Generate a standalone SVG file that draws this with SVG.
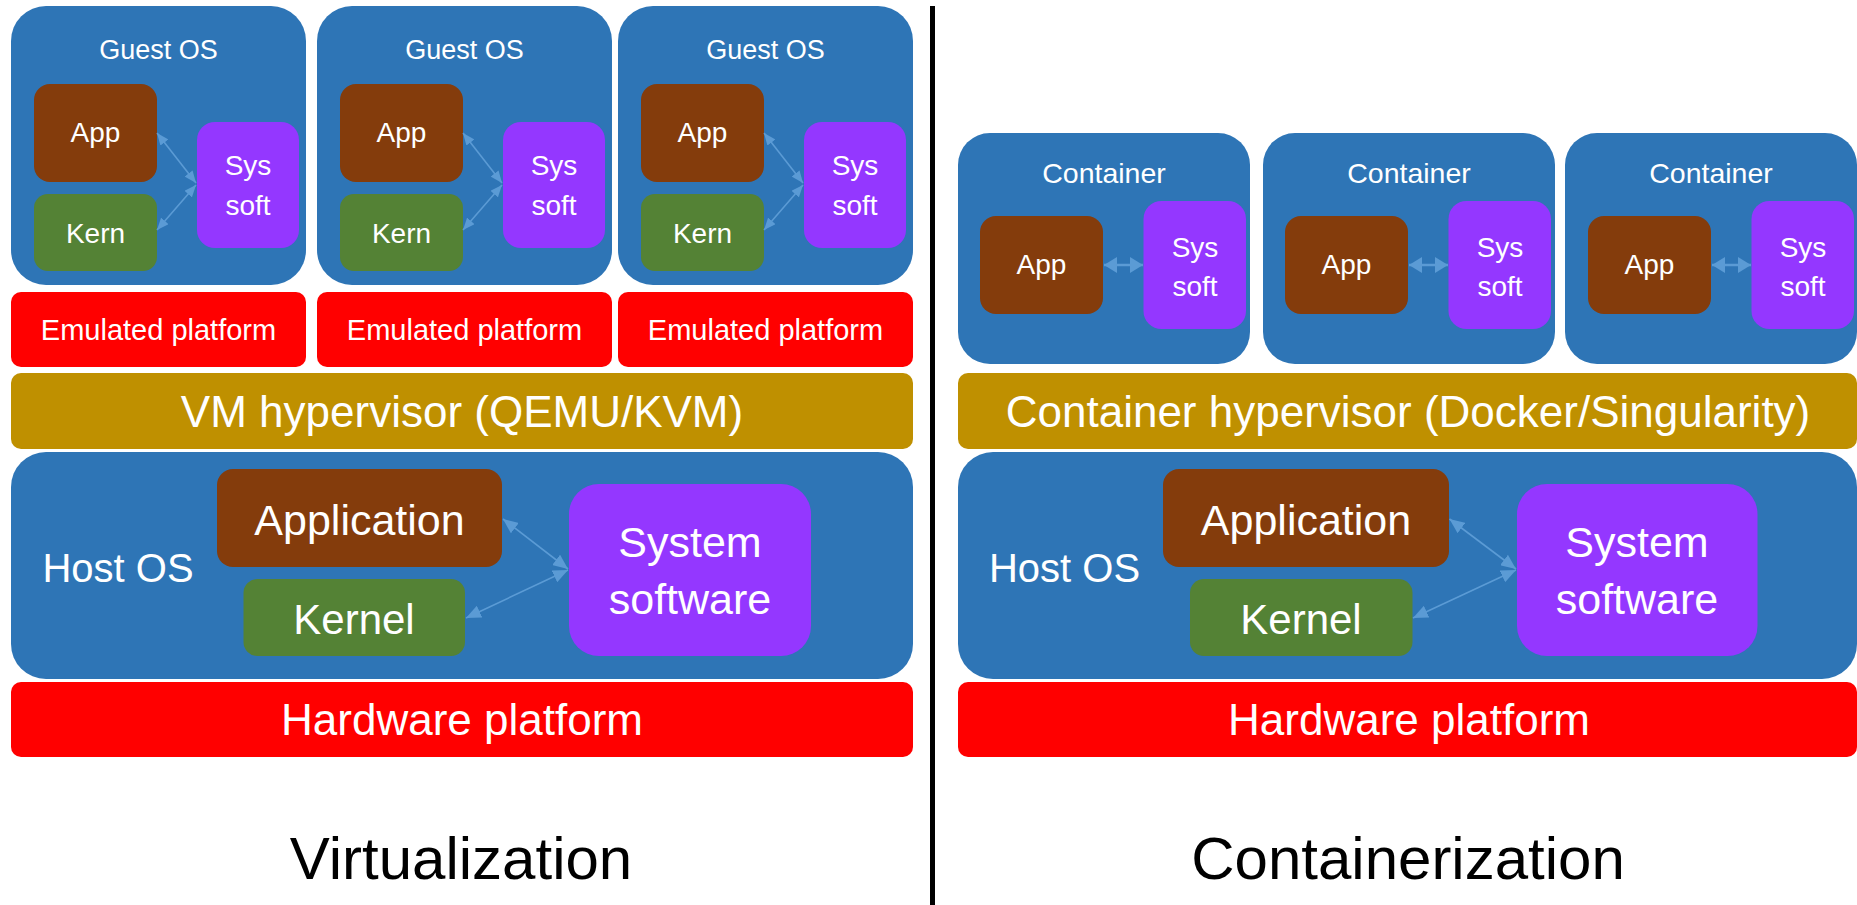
<svg xmlns="http://www.w3.org/2000/svg" width="1857" height="905" viewBox="0 0 1857 905">
<style>
text{font-family:"Liberation Sans",Arial,sans-serif;fill:#fff;text-anchor:middle}
.blue{fill:#2E75B6}.brown{fill:#843C0C}.green{fill:#548235}.purple{fill:#9437FF}.red{fill:#FF0000}.gold{fill:#BF9000}
.s{font-size:28px}.m{font-size:43px}.t{font-size:60px;fill:#000}
.arr{stroke:#5B9BD5;stroke-width:1.6;fill:none}
.arrc{stroke:#5B9BD5;stroke-width:2.5;fill:none}
</style>
<defs>
<marker id="ah" markerUnits="userSpaceOnUse" markerWidth="15" markerHeight="13" refX="15" refY="6.5" orient="auto-start-reverse"><path d="M0,0 L15,6.5 L0,13 z" fill="#5B9BD5"/></marker>
<marker id="ahs" markerUnits="userSpaceOnUse" markerWidth="12" markerHeight="10" refX="12" refY="5" orient="auto-start-reverse"><path d="M0,0 L12,5 L0,10 z" fill="#5B9BD5"/></marker>
<marker id="ahc" markerUnits="userSpaceOnUse" markerWidth="13" markerHeight="16" refX="13" refY="8" orient="auto-start-reverse"><path d="M0,0 L13,8 L0,16 z" fill="#5B9BD5"/></marker>
</defs>
<rect width="1857" height="905" fill="#fff"/>

<!-- Virtualization side -->
<g id="guest1">
<rect class="blue" x="11" y="6" width="295" height="279" rx="35"/>
<text class="s" x="158.5" y="59" style="font-size:27px">Guest OS</text>
<rect class="brown" x="34" y="84" width="123" height="98" rx="16"/>
<text class="s" x="95.5" y="142">App</text>
<rect class="green" x="34" y="194" width="123" height="77" rx="14"/>
<text class="s" x="95.5" y="243">Kern</text>
<rect class="purple" x="197" y="122" width="102" height="126" rx="18"/>
<text class="s" x="248" y="175">Sys</text><text class="s" x="248" y="215">soft</text>
</g>
<g id="guest2">
<rect class="blue" x="317" y="6" width="295" height="279" rx="35"/>
<text class="s" x="464.5" y="59" style="font-size:27px">Guest OS</text>
<rect class="brown" x="340" y="84" width="123" height="98" rx="16"/>
<text class="s" x="401.5" y="142">App</text>
<rect class="green" x="340" y="194" width="123" height="77" rx="14"/>
<text class="s" x="401.5" y="243">Kern</text>
<rect class="purple" x="503" y="122" width="102" height="126" rx="18"/>
<text class="s" x="554" y="175">Sys</text><text class="s" x="554" y="215">soft</text>
</g>
<g id="guest3">
<rect class="blue" x="618" y="6" width="295" height="279" rx="35"/>
<text class="s" x="765.5" y="59" style="font-size:27px">Guest OS</text>
<rect class="brown" x="641" y="84" width="123" height="98" rx="16"/>
<text class="s" x="702.5" y="142">App</text>
<rect class="green" x="641" y="194" width="123" height="77" rx="14"/>
<text class="s" x="702.5" y="243">Kern</text>
<rect class="purple" x="804" y="122" width="102" height="126" rx="18"/>
<text class="s" x="855" y="175">Sys</text><text class="s" x="855" y="215">soft</text>
</g>
<g id="emulated1"><rect class="red" x="11" y="292" width="295" height="75" rx="10"/><text class="s" x="158.5" y="340" style="font-size:29px">Emulated platform</text></g>
<g id="emulated2"><rect class="red" x="317" y="292" width="295" height="75" rx="10"/><text class="s" x="464.5" y="340" style="font-size:29px">Emulated platform</text></g>
<g id="emulated3"><rect class="red" x="618" y="292" width="295" height="75" rx="10"/><text class="s" x="765.5" y="340" style="font-size:29px">Emulated platform</text></g>
<g id="vm-hypervisor"><rect class="gold" x="11" y="373" width="902" height="76" rx="10"/><text x="462" y="427" style="font-size:44px">VM hypervisor (QEMU/KVM)</text></g>
<g id="host-os-v">
<rect class="blue" x="11" y="452" width="902" height="227" rx="35"/>
<text x="118" y="582" style="font-size:40px">Host OS</text>
<rect class="brown" x="217" y="469" width="285" height="98" rx="16"/>
<text class="m" x="359.5" y="535">Application</text>
<rect class="green" x="243.5" y="579" width="221.5" height="77" rx="14"/>
<text x="354" y="634" style="font-size:42px">Kernel</text>
<rect class="purple" x="569" y="484" width="242" height="172" rx="30"/>
<text class="m" x="690" y="557">System</text><text class="m" x="690" y="614">software</text>
</g>
<g id="hardware-v"><rect class="red" x="11" y="682" width="902" height="75" rx="10"/><text x="462" y="735" style="font-size:44px">Hardware platform</text></g>
<g id="title-v"><text class="t" x="461" y="879">Virtualization</text></g>

<!-- separator -->
<g id="separator"><rect x="930" y="6" width="5" height="899" fill="#000"/></g>

<!-- Containerization side -->
<g id="container1">
<rect class="blue" x="958" y="133" width="292" height="231" rx="32"/>
<text class="s" x="1104" y="183" style="font-size:28.5px">Container</text>
<rect class="brown" x="980" y="216" width="123" height="98" rx="16"/>
<text class="s" x="1041.5" y="274">App</text>
<rect class="purple" x="1143.5" y="201" width="102.5" height="128" rx="18"/>
<text class="s" x="1195" y="257">Sys</text><text class="s" x="1195" y="296">soft</text>
</g>
<g id="container2">
<rect class="blue" x="1263" y="133" width="292" height="231" rx="32"/>
<text class="s" x="1409" y="183" style="font-size:28.5px">Container</text>
<rect class="brown" x="1285" y="216" width="123" height="98" rx="16"/>
<text class="s" x="1346.5" y="274">App</text>
<rect class="purple" x="1448.5" y="201" width="102.5" height="128" rx="18"/>
<text class="s" x="1500" y="257">Sys</text><text class="s" x="1500" y="296">soft</text>
</g>
<g id="container3">
<rect class="blue" x="1565" y="133" width="292" height="231" rx="32"/>
<text class="s" x="1711" y="183" style="font-size:28.5px">Container</text>
<rect class="brown" x="1588" y="216" width="123" height="98" rx="16"/>
<text class="s" x="1649.5" y="274">App</text>
<rect class="purple" x="1751.5" y="201" width="102.5" height="128" rx="18"/>
<text class="s" x="1803" y="257">Sys</text><text class="s" x="1803" y="296">soft</text>
</g>
<g id="container-hypervisor"><rect class="gold" x="958" y="373" width="899" height="76" rx="10"/><text x="1408" y="427" style="font-size:44px">Container hypervisor (Docker/Singularity)</text></g>
<g id="host-os-c">
<rect class="blue" x="958" y="452" width="899" height="227" rx="35"/>
<text x="1064.5" y="582" style="font-size:40px">Host OS</text>
<rect class="brown" x="1163" y="469" width="286" height="98" rx="16"/>
<text class="m" x="1306" y="535">Application</text>
<rect class="green" x="1190" y="579" width="222.5" height="77" rx="14"/>
<text x="1301" y="634" style="font-size:42px">Kernel</text>
<rect class="purple" x="1517" y="484" width="240.5" height="172" rx="30"/>
<text class="m" x="1637" y="557">System</text><text class="m" x="1637" y="614">software</text>
</g>
<g id="hardware-c"><rect class="red" x="958" y="682" width="899" height="75" rx="10"/><text x="1409" y="735" style="font-size:44px">Hardware platform</text></g>
<g id="title-c"><text class="t" x="1408" y="879">Containerization</text></g>

<!-- connectors -->
<g id="connectors">
<line class="arr" x1="157" y1="133" x2="196" y2="183" marker-start="url(#ahs)" marker-end="url(#ahs)"/>
<line class="arr" x1="157" y1="230" x2="196" y2="185" marker-start="url(#ahs)" marker-end="url(#ahs)"/>
<line class="arr" x1="463" y1="133" x2="502" y2="183" marker-start="url(#ahs)" marker-end="url(#ahs)"/>
<line class="arr" x1="463" y1="230" x2="502" y2="185" marker-start="url(#ahs)" marker-end="url(#ahs)"/>
<line class="arr" x1="764" y1="133" x2="803" y2="183" marker-start="url(#ahs)" marker-end="url(#ahs)"/>
<line class="arr" x1="764" y1="230" x2="803" y2="185" marker-start="url(#ahs)" marker-end="url(#ahs)"/>
<line class="arr" x1="503" y1="519" x2="568" y2="569" marker-start="url(#ah)" marker-end="url(#ah)"/>
<line class="arr" x1="466" y1="618" x2="568" y2="570" marker-start="url(#ah)" marker-end="url(#ah)"/>
<line class="arr" x1="1449.5" y1="519" x2="1516" y2="569" marker-start="url(#ah)" marker-end="url(#ah)"/>
<line class="arr" x1="1413" y1="618" x2="1516" y2="570" marker-start="url(#ah)" marker-end="url(#ah)"/>
<line class="arrc" x1="1104" y1="265" x2="1143" y2="265" marker-start="url(#ahc)" marker-end="url(#ahc)"/>
<line class="arrc" x1="1409" y1="265" x2="1448" y2="265" marker-start="url(#ahc)" marker-end="url(#ahc)"/>
<line class="arrc" x1="1712" y1="265" x2="1751" y2="265" marker-start="url(#ahc)" marker-end="url(#ahc)"/>
</g>
</svg>
